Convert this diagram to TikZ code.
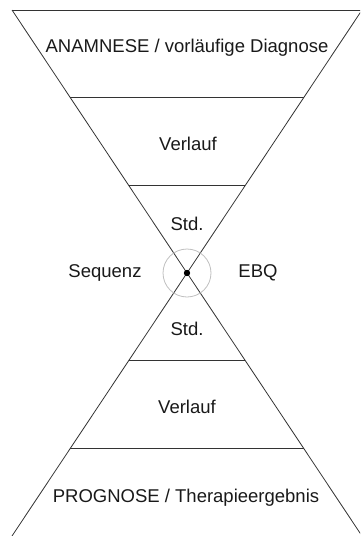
\documentclass[tikz,border=0pt]{standalone}
\usepackage{fontspec}
\setmainfont{Liberation Sans}
\usetikzlibrary{calc}

\begin{document}
\begin{tikzpicture}[x=1pt, y=-1pt,
    edge/.style={draw=black!80, line width=0.8pt},
    lbl/.style={font=\fontsize{18.5}{20}\selectfont, text=black!90, anchor=base, inner sep=0pt}
]
    \clip (0,0) rectangle (360,536);

    % Corners and waist
    \coordinate (c) at (187,273);
    \coordinate (tl) at (12,10);
    \coordinate (tr) at (362,10);
    \coordinate (bl) at (12,536);
    \coordinate (br) at (362,536);

    % Upper funnel
    \draw[edge] (tl) -- (tr);
    \draw[edge] (tl) -- (c) -- (tr);
    \draw[edge] ($(tl)!1/3!(c)$) -- ($(tr)!1/3!(c)$);
    \draw[edge] ($(tl)!2/3!(c)$) -- ($(tr)!2/3!(c)$);

    % Lower funnel
    \draw[edge] (bl) -- (c) -- (br);
    \draw[edge] ($(bl)!1/3!(c)$) -- ($(br)!1/3!(c)$);
    \draw[edge] ($(bl)!2/3!(c)$) -- ($(br)!2/3!(c)$);

    % Waist
    \draw[black!25, line width=0.8pt] (c) circle (24);
    \fill[black] (c) circle (3.2);

    % Texts
    \node[lbl] (anam) at (187,52.3) {ANAMNESE / vorläufige Diagnose};
    \node[lbl] (verl1) at (188,150) {Verlauf};
    \node[lbl] (std1) at (187,230) {Std.};
    \node[lbl] (seq) at (105,277.7) {Sequenz};
    \node[lbl] (ebq) at (258,277.7) {EBQ};
    \node[lbl] (std2) at (187,335) {Std.};
    \node[lbl] (verl2) at (187,413.3) {Verlauf};
    \node[lbl] (prog) at (186,502.7) {PROGNOSE / Therapieergebnis};
\end{tikzpicture}
\end{document}
